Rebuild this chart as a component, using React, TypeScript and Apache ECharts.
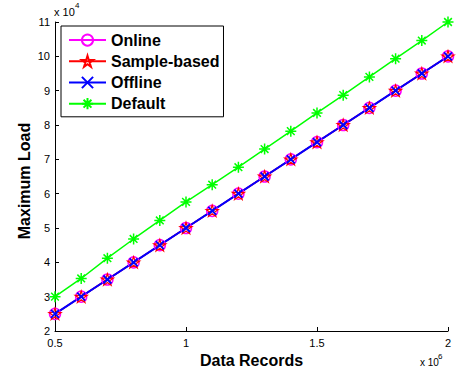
import React, { useEffect, useRef } from "react";
import * as echarts from "echarts";

const dataRecords = [0.5, 0.6, 0.7, 0.8, 0.9, 1.0, 1.1, 1.2, 1.3, 1.4, 1.5, 1.6, 1.7, 1.8, 1.9, 2.0];
const onlineLoad = [2.5, 3.0, 3.5, 4.0, 4.5, 5.0, 5.5, 6.0, 6.5, 7.0, 7.5, 8.0, 8.5, 9.0, 9.5, 10.0];
const sampleLoad = [2.5, 3.0, 3.5, 4.0, 4.5, 5.0, 5.5, 6.0, 6.5, 7.0, 7.5, 8.0, 8.5, 9.0, 9.5, 10.0];
const offlineLoad = [2.5, 3.0, 3.5, 4.0, 4.5, 5.0, 5.5, 6.0, 6.5, 7.0, 7.5, 8.0, 8.5, 9.0, 9.5, 10.0];
const defaultLoad = [3.0, 3.53, 4.12, 4.68, 5.22, 5.76, 6.26, 6.77, 7.3, 7.82, 8.35, 8.87, 9.4, 9.93, 10.46, 11.0];

const STAR =
  "path://M0,-1L0.2245,-0.309L0.951,-0.309L0.363,0.118L0.588,0.809L0,0.382L-0.588,0.809L-0.363,0.118L-0.951,-0.309L-0.2245,-0.309Z";
const XMARK = "path://M-1,-1L1,1M-1,1L1,-1";
const ASTER = "path://M0,-1L0,1M-1,0L1,0M-0.7,-0.7L0.7,0.7M-0.7,0.7L0.7,-0.7";

const FONT = "'Liberation Sans', Arial, Helvetica, sans-serif";

function pairs(ys: number[]) {
  return dataRecords.map((x, i) => [x, ys[i]]);
}

export default function App() {
  const ref = useRef<HTMLDivElement>(null);
  useEffect(() => {
    if (!ref.current) return;
    const chart = echarts.init(ref.current, undefined, { renderer: "svg" });
    chart.setOption({
      animation: false,
      backgroundColor: "#fff",
      textStyle: { fontFamily: FONT },
      grid: { left: 55, right: 13, top: 22, bottom: 47, containLabel: false },
      legend: {
        orient: "vertical",
        left: 61,
        top: 26,
        backgroundColor: "#fff",
        borderColor: "#000",
        borderWidth: 1,
        borderRadius: 0,
        padding: [6, 4, 5, 7],
        itemWidth: 37,
        itemHeight: 14,
        itemGap: 5,
        textStyle: { fontFamily: FONT, fontWeight: "bold", fontSize: 16, color: "#000", lineHeight: 16 },
        data: ["Online", "Sample-based", "Offline", "Default"],
      },
      xAxis: {
        type: "value",
        min: 0.5,
        max: 2,
        interval: 0.5,
        name: "Data Records",
        nameLocation: "middle",
        nameGap: 18,
        nameTextStyle: { fontFamily: FONT, fontWeight: "bold", fontSize: 16, color: "#000", verticalAlign: "top" },
        axisLine: { lineStyle: { color: "#000", width: 1 } },
        axisTick: { inside: true, length: 4, lineStyle: { color: "#000" } },
        axisLabel: { color: "#000", fontSize: 11, margin: 6, fontFamily: FONT },
        splitLine: { show: false },
      },
      yAxis: {
        type: "value",
        min: 2,
        max: 11,
        interval: 1,
        axisLine: { show: true, lineStyle: { color: "#000", width: 1 } },
        axisTick: { show: true, inside: true, length: 4, lineStyle: { color: "#000" } },
        axisLabel: { color: "#000", fontSize: 11, margin: 5, fontFamily: FONT },
        splitLine: { show: false },
      },
      graphic: [
        {
          type: "text",
          x: 24,
          y: 181,
          rotation: Math.PI / 2,
          style: {
            text: "Maximum Load",
            fontSize: 16,
            fontWeight: "bold",
            fontFamily: FONT,
            fill: "#000",
            align: "center",
            verticalAlign: "middle",
          },
        },
        { type: "text", left: 54, top: 6, style: { text: "x 10", fontSize: 11, fontFamily: FONT, fill: "#000" } },
        { type: "text", left: 75, top: 1, style: { text: "4", fontSize: 8, fontFamily: FONT, fill: "#000" } },
        { type: "text", left: 420, top: 357, style: { text: "x 10", fontSize: 10, fontFamily: FONT, fill: "#000" } },
        { type: "text", left: 438, top: 352, style: { text: "6", fontSize: 8, fontFamily: FONT, fill: "#000" } },
      ],
      series: [
        {
          name: "Online",
          type: "line",
          data: pairs(onlineLoad),
          symbol: "circle",
          symbolSize: 11,
          color: "#ff00ff",
          lineStyle: { color: "#ff00ff", width: 1.5 },
          itemStyle: { color: "none", borderColor: "#ff00ff", borderWidth: 1.5 },
        },
        {
          name: "Sample-based",
          type: "line",
          data: pairs(sampleLoad),
          symbol: STAR,
          symbolKeepAspect: true,
          symbolSize: 12,
          color: "#ff0000",
          lineStyle: { color: "#ff0000", width: 1.5 },
          itemStyle: { color: "none", borderColor: "#ff0000", borderWidth: 1.2 },
        },
        {
          name: "Offline",
          type: "line",
          data: pairs(offlineLoad),
          symbol: XMARK,
          symbolSize: 8,
          color: "#0000ff",
          lineStyle: { color: "#0000ff", width: 2 },
          itemStyle: { color: "none", borderColor: "#0000ff", borderWidth: 1.8 },
        },
        {
          name: "Default",
          type: "line",
          data: pairs(defaultLoad),
          symbol: ASTER,
          symbolSize: 11,
          color: "#00ff00",
          lineStyle: { color: "#00ff00", width: 1.5 },
          itemStyle: { color: "none", borderColor: "#00ff00", borderWidth: 1.5 },
        },
      ],
    });
    return () => chart.dispose();
  }, []);
  return <div ref={ref} style={{ width: 461, height: 378, position: "absolute", left: 0, top: 0 }} />;
}
